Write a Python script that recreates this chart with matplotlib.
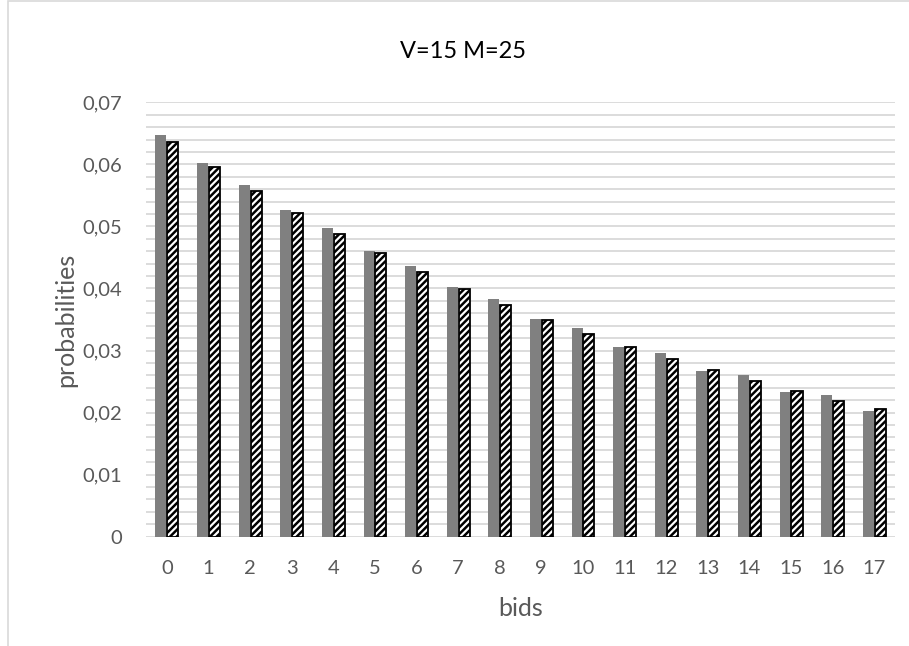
import matplotlib
matplotlib.use("Agg")
import matplotlib.pyplot as plt
from matplotlib.patches import Rectangle
import numpy as np

plt.rcParams['font.family'] = ['Lato', 'DejaVu Sans']
plt.rcParams['hatch.linewidth'] = 1.8

bids = [str(i) for i in range(18)]
series_gray = [0.0647, 0.0602, 0.0567, 0.0526, 0.0497, 0.0460, 0.0436, 0.0402, 0.0383,
               0.0351, 0.0336, 0.0306, 0.0296, 0.0267, 0.0260, 0.0233, 0.0229, 0.0202]
series_hatched = [0.0636, 0.0595, 0.0557, 0.0521, 0.0488, 0.0457, 0.0427, 0.0399, 0.0374,
                  0.0349, 0.0327, 0.0306, 0.0286, 0.0268, 0.0251, 0.0234, 0.0219, 0.0206]
ytick_values = [0, 0.01, 0.02, 0.03, 0.04, 0.05, 0.06, 0.07]
ytick_labels = ["0", "0,01", "0,02", "0,03", "0,04", "0,05", "0,06", "0,07"]
title = "V=15 M=25"
xlabel = "bids"
ylabel = "probabilities"

fig = plt.figure(figsize=(9.09, 6.46), dpi=100)
ax = fig.add_axes([146/909, 1 - 536.7/646, (895-146)/909, (536.7-102.3)/646])

x = np.arange(len(bids))
w = 0.265
ax.bar(x - 0.14, series_gray, width=w, color='#808080', zorder=3, linewidth=0)
ax.bar(x + 0.145, series_hatched, width=w, facecolor='white', edgecolor='black',
       hatch='/////', linewidth=1.3, zorder=3)

ax.set_xlim(-0.5, len(bids) - 0.5)
ax.set_ylim(0, 0.07)
ax.set_yticks(ytick_values)
ax.set_yticklabels(ytick_labels)
ax.set_yticks(np.arange(0, 0.0701, 0.002), minor=True)
ax.set_xticks(x)
ax.set_xticklabels(bids)
ax.grid(True, which='both', axis='y', color='#d9d9d9', linewidth=1.3, zorder=0)
ax.set_axisbelow(True)
for s in ['top', 'right', 'left', 'bottom']:
    ax.spines[s].set_visible(False)
ax.tick_params(axis='both', which='both', length=0)
ax.tick_params(axis='y', labelsize=14.5, labelcolor='#595959', pad=17)
ax.tick_params(axis='x', labelsize=14.5, labelcolor='#595959', pad=17)
ax.set_xlabel(xlabel, fontsize=18, color='#595959', labelpad=14)
ax.set_ylabel(ylabel, fontsize=18, color='#595959', labelpad=4)
fig.text(463/909, 1 - 52/646, title, fontsize=17, color='black', ha='center', va='center')

fig.patches.append(Rectangle((8/909, -0.1), 1.2, 1.1 - 1/646, transform=fig.transFigure,
                             fill=False, edgecolor='#d9d9d9', linewidth=1.2))

fig.savefig('out.png', dpi=100)
